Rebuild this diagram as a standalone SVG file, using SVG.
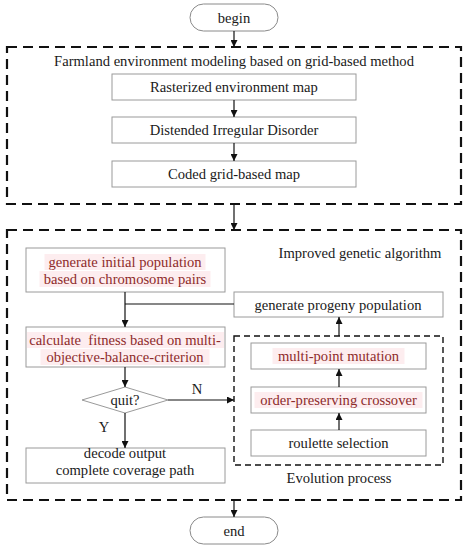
<svg xmlns="http://www.w3.org/2000/svg" width="468" height="550" viewBox="0 0 468 550">
<defs>
<style>
text{font-family:"Liberation Serif","Times New Roman",serif;font-size:14.6px;fill:#1a1a1a;text-anchor:middle;dominant-baseline:central;white-space:pre}
.box{fill:#fff;stroke:#9a9a9a;stroke-width:1}
.term{fill:#fff;stroke:#8a8a8a;stroke-width:1}
.outer{fill:none;stroke:#111;stroke-width:2.2;stroke-dasharray:10,6}
.inner{fill:none;stroke:#111;stroke-width:1.4;stroke-dasharray:6,4}
.red{fill:#8e2b2b}
.hl{fill:#fdedef}
.ln{fill:none;stroke:#111;stroke-width:1.2}
</style>
<marker id="ah" viewBox="0 0 10 10" refX="10" refY="5" markerWidth="7" markerHeight="7" orient="auto" markerUnits="userSpaceOnUse">
<path d="M0,0 L10,5 L0,10 z" fill="#111"/>
</marker>
</defs>

<g id="begin"><rect class="term" x="190" y="4" width="88" height="27" rx="13.5"/><text x="234" y="17.5">begin</text></g>

<g id="group-farmland"><rect class="outer" x="7" y="47" width="454" height="157"/><text x="234" y="61">Farmland environment modeling based on grid-based method</text></g>
<g id="raster"><rect class="box" x="112" y="74" width="244" height="26"/><text x="234" y="87">Rasterized environment map</text></g>
<g id="distended"><rect class="box" x="112" y="117" width="244" height="26"/><text x="234" y="130">Distended Irregular Disorder</text></g>
<g id="coded"><rect class="box" x="112" y="161" width="244" height="26"/><text x="234" y="174">Coded grid-based map</text></g>

<g id="group-ga"><rect class="outer" x="7" y="230" width="454" height="270"/><text x="360" y="253">Improved genetic algorithm</text></g>
<g id="init"><rect class="box" x="26" y="248" width="199" height="44"/>
<rect class="hl" x="44.5" y="254" width="161" height="16"/><rect class="hl" x="39.5" y="271" width="171" height="16"/>
<text class="red" x="125" y="262">generate initial population</text><text class="red" x="125" y="279">based on chromosome pairs</text></g>
<g id="progeny"><rect class="box" x="234" y="292" width="209" height="25"/><text x="338" y="304.5">generate progeny population</text></g>
<g id="fitness"><rect class="box" x="26" y="327" width="199" height="40"/>
<rect class="hl" x="27" y="332" width="197" height="16"/><rect class="hl" x="40.5" y="349" width="169" height="16"/>
<text class="red" x="125" y="340">calculate  fitness based on multi-</text><text class="red" x="125" y="357">objective-balance-criterion</text></g>
<g id="quit"><polygon class="box" points="125,387 168,400 125,413 82,400"/><text x="125" y="400">quit?</text></g>
<g id="decode"><rect class="box" x="26" y="448" width="199" height="35"/><text x="125" y="453">decode output</text><text x="125" y="470">complete coverage path</text></g>

<g id="group-evolution"><rect class="inner" x="234" y="336" width="209" height="129"/><text x="339" y="478">Evolution process</text></g>
<g id="mutation"><rect class="box" x="251" y="343" width="175" height="26"/><rect class="hl" x="272.5" y="348" width="132" height="16"/><text class="red" x="338.5" y="356">multi-point mutation</text></g>
<g id="crossover"><rect class="box" x="251" y="387" width="175" height="26"/><rect class="hl" x="254.5" y="392" width="168" height="16"/><text class="red" x="338.5" y="400">order-preserving crossover</text></g>
<g id="roulette"><rect class="box" x="251" y="430" width="175" height="26"/><text x="338.5" y="443">roulette selection</text></g>

<g id="end"><rect class="term" x="190" y="517" width="88" height="27" rx="13.5"/><text x="234" y="530.5">end</text></g>

<g id="connectors">
<line class="ln" x1="234" y1="31" x2="234" y2="47" marker-end="url(#ah)"/>
<line class="ln" x1="234" y1="100" x2="234" y2="117" marker-end="url(#ah)"/>
<line class="ln" x1="234" y1="143" x2="234" y2="161" marker-end="url(#ah)"/>
<line class="ln" x1="234" y1="204" x2="234" y2="230" marker-end="url(#ah)"/>
<line class="ln" x1="125" y1="292" x2="125" y2="327" marker-end="url(#ah)"/>
<line class="ln" x1="125" y1="304" x2="234" y2="304"/>
<line class="ln" x1="339" y1="336" x2="339" y2="317" marker-end="url(#ah)"/>
<line class="ln" x1="125" y1="367" x2="125" y2="387" marker-end="url(#ah)"/>
<line class="ln" x1="168" y1="400" x2="234" y2="400" marker-end="url(#ah)"/>
<text x="197" y="389">N</text>
<line class="ln" x1="125" y1="413" x2="125" y2="448" marker-end="url(#ah)"/>
<text x="104" y="427">Y</text>
<line class="ln" x1="339" y1="430" x2="339" y2="413" marker-end="url(#ah)"/>
<line class="ln" x1="339" y1="387" x2="339" y2="369" marker-end="url(#ah)"/>
<line class="ln" x1="234" y1="500" x2="234" y2="517" marker-end="url(#ah)"/>
</g>
</svg>
